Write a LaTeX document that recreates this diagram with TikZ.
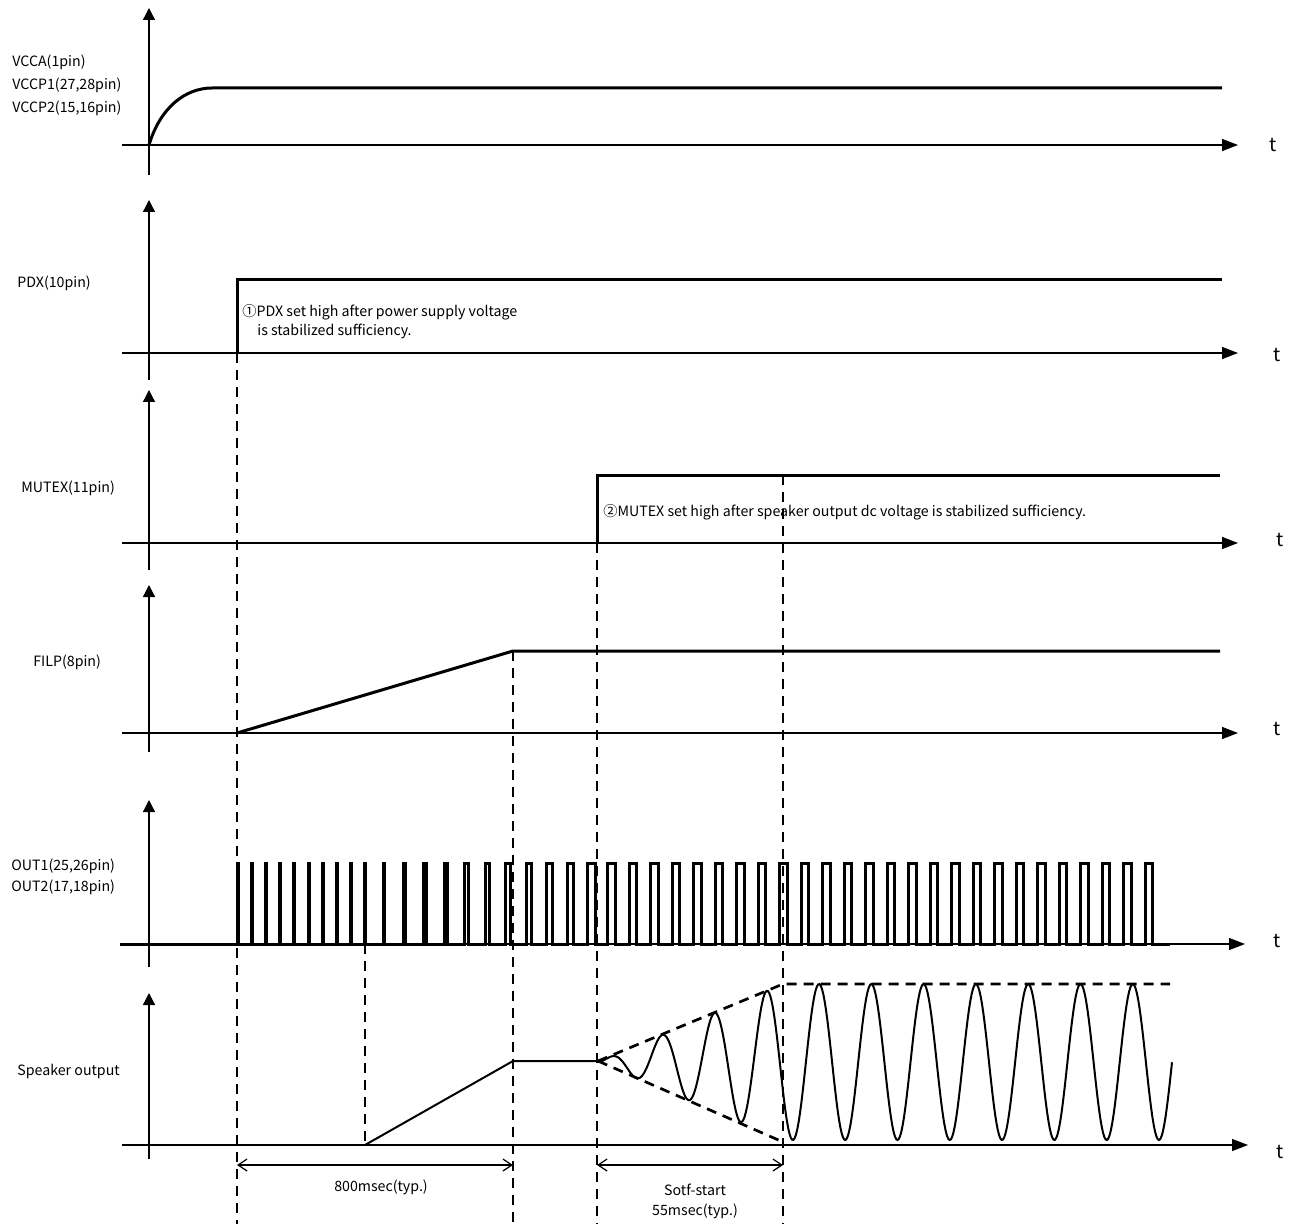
\documentclass[tikz,border=0pt]{standalone}
\usepackage{fontspec}
\setmainfont{Noto Sans CJK JP}
\usetikzlibrary{arrows.meta}
\begin{document}
\begin{tikzpicture}[x=0.5pt,y=-0.5pt,
  haxis/.style={line width=0.65pt,-{Triangle[length=8pt,width=6pt]}},
  vaxis/.style={line width=0.65pt,-{Triangle[length=6pt,width=6pt]}},
  sig/.style={line width=1.5pt},
  thinsig/.style={line width=1pt},
  guide/.style={line width=1.35pt,dash pattern=on 5pt off 3.5pt},
  dim/.style={line width=0.6pt,{Straight Barb[length=4.5pt,width=6pt]}-{Straight Barb[length=4.5pt,width=6pt]}},
  lbl/.style={anchor=west,inner sep=0pt,font=\fontsize{7.1}{8}\selectfont},
  ctr/.style={anchor=center,inner sep=0pt,font=\fontsize{7.1}{8}\selectfont},
  tlab/.style={anchor=center,inner sep=0pt,font=\fontsize{9.5}{10}\selectfont}]
\useasboundingbox (0,0) rectangle (1294,1224);

% ---------- axes ----------
\foreach \b/\bot/\tip/\xe/\tx/\ty in {145/175/8/1238/1273/145, 353/380/200/1238/1277/355, 543/570/390/1238/1280/540, 733/752/585/1238/1277/729, 944/967/800/1245/1277/941, 1145/1159/993/1248/1280/1152}{
  \draw[vaxis] (149,\bot) -- (149,\tip);
  \draw[haxis] (122,\b) -- (\xe,\b);
  \node[tlab] (t\b) at (\tx,\ty) {t};
}

% ---------- labels ----------
\node[lbl] (lvcca) at (12,62) {VCCA(1pin)};
\node[lbl] (lvccp1) at (12,85) {VCCP1(27,28pin)};
\node[lbl] (lvccp2) at (12,108) {VCCP2(15,16pin)};
\node[lbl] (lpdx) at (17,283) {PDX(10pin)};
\node[lbl] (lmutex) at (21,488) {MUTEX(11pin)};
\node[lbl] (lfilp) at (33,662) {FILP(8pin)};
\node[lbl] (lout1) at (11,866) {OUT1(25,26pin)};
\node[lbl] (lout2) at (11,887) {OUT2(17,18pin)};
\node[lbl] (lspk) at (17,1071) {Speaker output};

% ---------- dashed guides ----------
\draw[guide] (237,353) -- (237,1224);
\draw[guide] (365,944) -- (365,1145);
\draw[guide] (513,651) -- (513,1224);
\draw[guide] (597,543) -- (597,1224);
\draw[guide] (783,475) -- (783,1224);

% ---------- signals ----------
% VCC
\draw[sig] (149,145) .. controls (160,108) and (185,88) .. (212,88) -- (1222,88);
% PDX
\draw[sig] (237,353) -- (237,280) -- (1222,280);
\node[lbl] (n1a) at (242,312) {①PDX set high after power supply voltage};
\node[lbl] (n1b) at (257,331) {is stabilized sufficiency.};
% MUTEX
\draw[sig] (597,543) -- (597,475) -- (1220,475);
\node[lbl] (n2) at (603,512) {②MUTEX set high after speaker output dc voltage is stabilized sufficiency.};
% FILP
\draw[sig] (237,733) -- (513,651) -- (1220,651);
% OUT pulses
\draw[sig,line join=miter] (120,944)
  foreach \k in {0,...,9}{ -- ({237+14.2*\k},944) -- ({237+14.2*\k},863) -- ({238+14.2*\k},863) -- ({238+14.2*\k},944) }
  foreach \k in {0,...,10}{ -- ({383+20.45*\k},944) -- ({383+20.45*\k},863) -- ({384.5+20.45*\k+0.6*\k},863) -- ({384.5+20.45*\k+0.6*\k},944) }
  foreach \k in {0,...,25}{ -- ({607.7+21.5*\k},944) -- ({607.7+21.5*\k},863) -- ({615.4+21.5*\k},863) -- ({615.4+21.5*\k},944) }
  -- (1170,944);
% speaker output
\draw[thinsig] (365,1145) -- (513,1061) -- (598,1061)
  -- plot[domain=598:783,samples=160] (\x,{1062-(\x-598)/185*78*cos((\x-819)/52.3*360)})
  -- plot[domain=783:1172,samples=300] (\x,{1062-78*cos((\x-819)/52.3*360)});
% envelope
\draw[guide] (598,1061) -- (783,984) -- (1170,984);
\draw[guide] (598,1061) -- (783,1142);

% ---------- dimensions ----------
\coordinate (d1a) at (237,1165);
\coordinate (d1b) at (513,1165);
\coordinate (d2a) at (597,1165);
\coordinate (d2b) at (783,1165);
\draw[dim] (d1a) -- (d1b);
\draw[dim] (d2a) -- (d2b);
\node[ctr] (m1) at (381,1187) {800msec(typ.)};
\node[ctr] (m2) at (695,1190) {Sotf-start};
\node[ctr] (m3) at (695,1211) {55msec(typ.)};
\end{tikzpicture}
\end{document}
